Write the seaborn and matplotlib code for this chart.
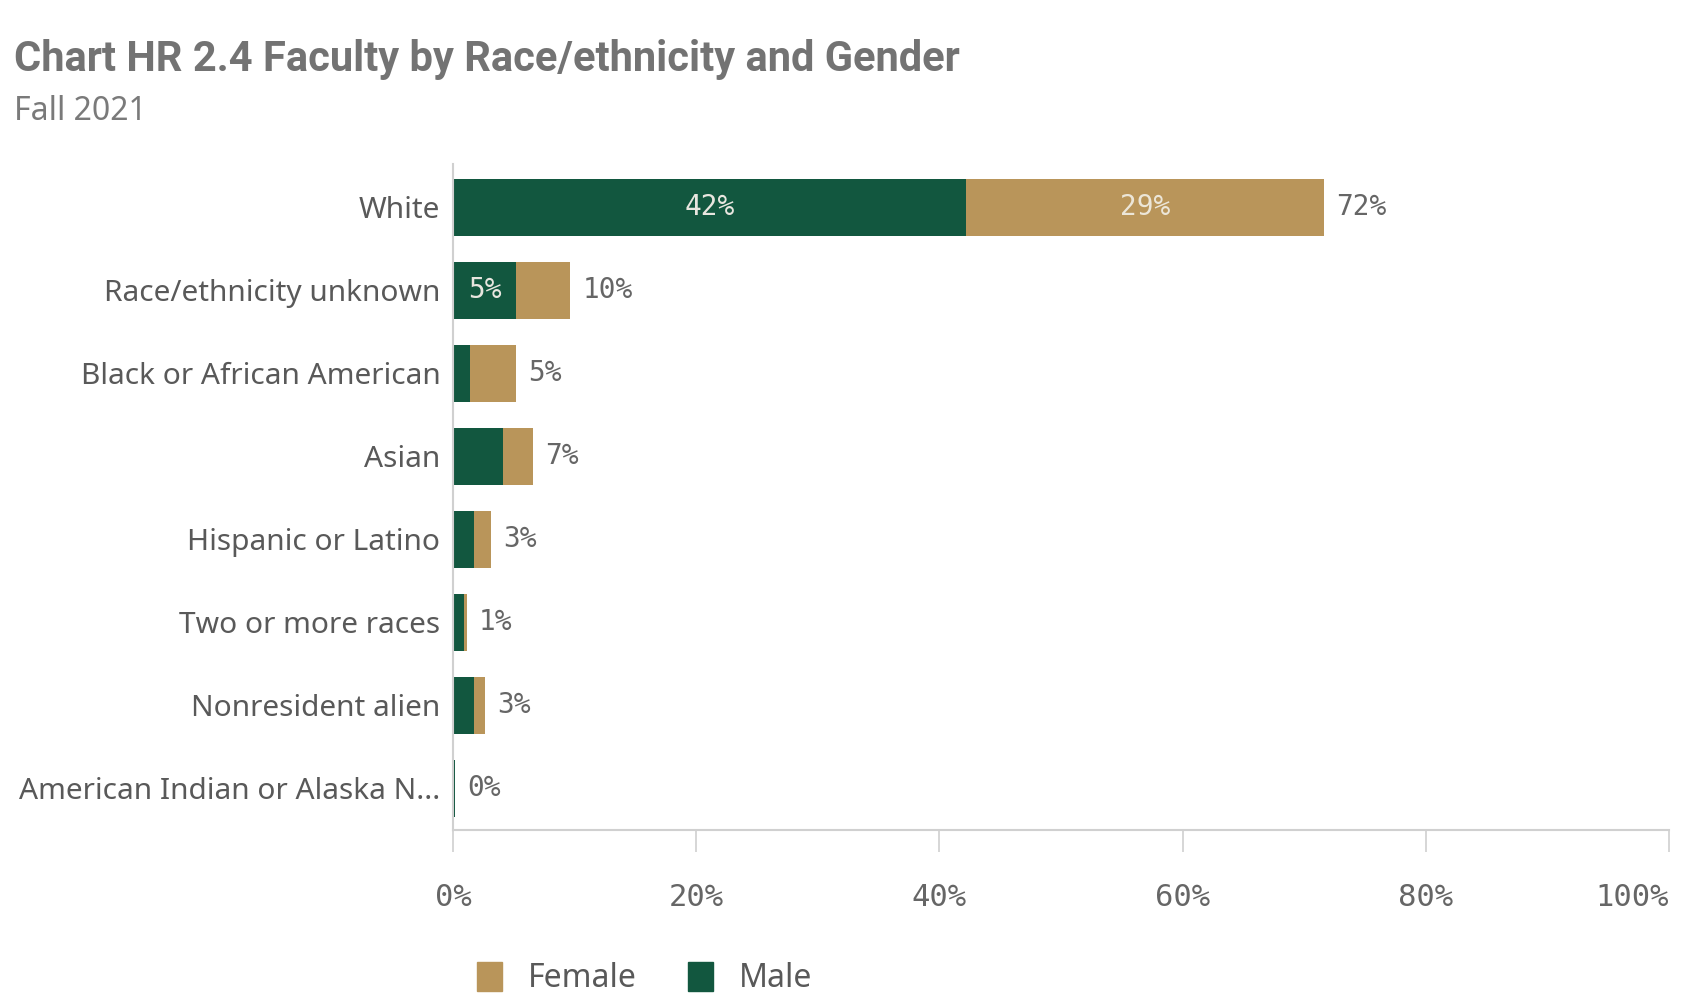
import pandas as pd
import matplotlib.pyplot as plt
import seaborn as sns
from matplotlib.patches import Patch

# --- DATA (percent of all faculty) ---
categories = ['White', 'Race/ethnicity unknown', 'Black or African American', 'Asian',
              'Hispanic or Latino', 'Two or more races', 'Nonresident alien',
              'American Indian or Alaska N...']
male = [42.2, 5.2, 1.4, 4.1, 1.7, 0.9, 1.7, 0.15]
female = [29.4, 4.45, 3.8, 2.45, 1.4, 0.25, 0.95, 0.05]
x_ticks = [0, 20, 40, 60, 80, 100]

GREEN = '#12573f'
GOLD = '#b9955a'
GREY = '#666666'

df = pd.DataFrame({'Race': categories, 'Male': male, 'Female': female})
df['Total'] = df['Male'] + df['Female']

sns.set_style('white')
plt.rcParams['font.family'] = ['Noto Sans', 'DejaVu Sans']

fig = plt.figure(figsize=(16.9, 10.06), dpi=100)
ax = fig.add_axes([0.268, 0.175, 0.7196, 0.662])

# stacked bars: total in gold, male drawn over it
sns.barplot(data=df, y='Race', x='Total', color=GOLD, width=0.69, ax=ax,
            saturation=1, edgecolor='none')
sns.barplot(data=df, y='Race', x='Male', color=GREEN, width=0.69, ax=ax,
            saturation=1, edgecolor='none')

mono = 'DejaVu Sans Mono'
for i, row in df.iterrows():
    ax.text(row['Total'] + 1.0, i, f"{round(row['Total'])}%", va='center', ha='left',
            fontsize=20, color=GREY, family=mono)
    if row['Male'] >= 5:
        ax.text(row['Male'] / 2, i, f"{round(row['Male'])}%", va='center', ha='center',
                fontsize=20, color='#e8e6df', family=mono)
    if row['Female'] >= 5:
        ax.text(row['Male'] + row['Female'] / 2, i, f"{round(row['Female'])}%",
                va='center', ha='center', fontsize=20, color='#ece6d8', family=mono)

ax.set_xlim(0, 100)
ax.set_ylim(7.5, -0.52)
ax.set_xticks(x_ticks)
ax.set_xticklabels([f'{t}%' for t in x_ticks], family=mono, fontsize=22, color=GREY)
# last tick label kept inside the plot, as in the original
ax.get_xticklabels()[-1].set_horizontalalignment('right')
ax.tick_params(axis='x', length=16, width=1.2, color='#d0d0d0', pad=22, bottom=True)
ax.tick_params(axis='y', length=0, pad=9, labelsize=21.5, labelcolor='#595959')
ax.set_xlabel('')
ax.set_ylabel('')

for s in ['top', 'right']:
    ax.spines[s].set_visible(False)
for s in ['left', 'bottom']:
    ax.spines[s].set_color('#d0d0d0')
    ax.spines[s].set_linewidth(1.5)

fig.text(0.008, 0.941, 'Chart HR 2.4 Faculty by Race/ethnicity and Gender',
         fontsize=30, fontweight='bold', color='#737373', va='center', family='Roboto')
fig.text(0.008, 0.889, 'Fall 2021', fontsize=23, color='#7a7a7a', va='center')

handles = [Patch(color=GOLD, label='Female'), Patch(color=GREEN, label='Male')]
fig.legend(handles=handles, loc='center left', bbox_to_anchor=(0.265, 0.027), ncol=2,
           frameon=False, fontsize=23, handlelength=0.8, handleheight=1.0,
           handletextpad=0.8, columnspacing=1.6, labelcolor='#595959')

plt.savefig('out.png', dpi=100)
plt.close()
